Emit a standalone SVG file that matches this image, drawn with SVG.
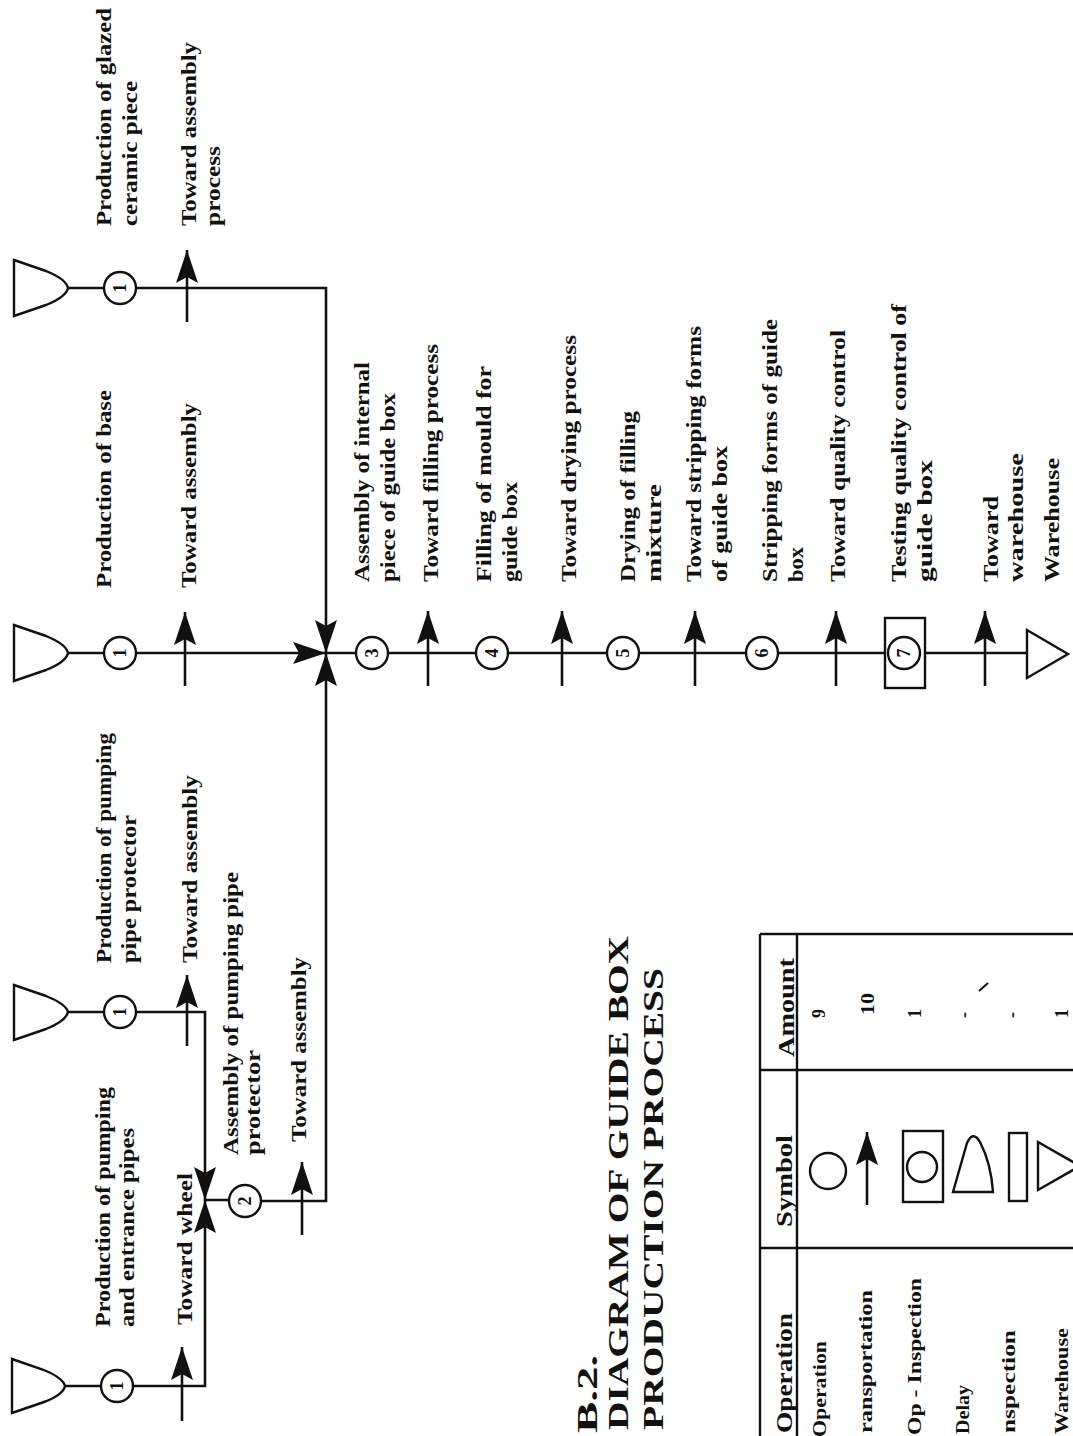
<svg xmlns="http://www.w3.org/2000/svg" width="1073" height="1436" viewBox="0 0 1073 1436">
<defs>
<style>
.ln{fill:none;stroke:#111;stroke-width:2.4}
.sym{fill:#fff;stroke:#111;stroke-width:2.4}
.ar{fill:none;stroke:#111;stroke-width:2.6;marker-end:url(#ah)}
.lb{font-family:"Liberation Serif","Times New Roman",serif;font-weight:bold;font-size:20px;fill:#111}
.num{font-family:"Liberation Serif","Times New Roman",serif;font-weight:bold;font-size:18px;fill:#111;text-anchor:middle;dominant-baseline:central}
.ttl{font-family:"Liberation Serif","Times New Roman",serif;font-weight:bold;font-size:29px;fill:#111}
.th{font-family:"Liberation Serif","Times New Roman",serif;font-weight:bold;font-size:24px;fill:#111}
.td{font-family:"Liberation Serif","Times New Roman",serif;font-weight:bold;font-size:19px;fill:#111}
.tv{font-family:"Liberation Serif","Times New Roman",serif;font-weight:bold;font-size:18px;fill:#111}
</style>
<marker id="ah" markerUnits="userSpaceOnUse" markerWidth="34" markerHeight="24" refX="33" refY="12" orient="auto">
<path d="M0,1 L33,12 L0,23 L6,12 Z" fill="#111"/>
</marker>
</defs>
<rect width="1073" height="1436" fill="#fff"/>

<g id="connectors">
<path class="ar" d="M68,288 H326 V653"/>
<path class="ar" d="M68,653 H326"/>
<path class="ar" d="M245,1201 H326 V653"/>
<path class="ln" d="M326,653 H1027"/>
<path class="ar" d="M68,1012 H205 V1200"/>
<path class="ar" d="M65,1386 H205 V1200"/>
<path class="ln" d="M205,1200 H245"/>
</g>

<!-- Row 1: glazed ceramic piece -->
<g id="delay-glazed"><path class="sym" d="M14,260 L46,271 Q66,279 68,288 Q66,297 46,305 L14,316 Z"/></g>
<g id="op-glazed">
<circle class="sym" cx="120" cy="288" r="16"/>
<text class="num" transform="translate(120,288) rotate(-90)">1</text>
<text class="lb" transform="translate(111,226) rotate(-90)" textLength="218" lengthAdjust="spacingAndGlyphs">Production of glazed</text>
<text class="lb" transform="translate(137,226) rotate(-90)" textLength="145" lengthAdjust="spacingAndGlyphs">ceramic piece</text>
</g>
<g id="tr-glazed">
<line class="ar" x1="187" y1="322" x2="187" y2="250"/>
<text class="lb" transform="translate(196,226) rotate(-90)" textLength="184" lengthAdjust="spacingAndGlyphs">Toward assembly</text>
<text class="lb" transform="translate(220,226) rotate(-90)" textLength="80" lengthAdjust="spacingAndGlyphs">process</text>
</g>

<!-- Row 2: base -->
<g id="delay-base"><path class="sym" d="M14,625 L46,636 Q66,644 68,653 Q66,662 46,670 L14,681 Z"/></g>
<g id="op-base">
<circle class="sym" cx="120" cy="653" r="16"/>
<text class="num" transform="translate(120,653) rotate(-90)">1</text>
<text class="lb" transform="translate(111,588) rotate(-90)" textLength="198" lengthAdjust="spacingAndGlyphs">Production of base</text>
</g>
<g id="tr-base">
<line class="ar" x1="185" y1="686" x2="185" y2="612"/>
<text class="lb" transform="translate(196,588) rotate(-90)" textLength="185" lengthAdjust="spacingAndGlyphs">Toward assembly</text>
</g>

<!-- Row 3: pumping pipe protector -->
<g id="delay-protector"><path class="sym" d="M14,985 L46,996 Q66,1004 68,1012 Q66,1021 46,1029 L14,1040 Z"/></g>
<g id="op-protector">
<circle class="sym" cx="120" cy="1012" r="16"/>
<text class="num" transform="translate(120,1012) rotate(-90)">1</text>
<text class="lb" transform="translate(111,963) rotate(-90)" textLength="230" lengthAdjust="spacingAndGlyphs">Production of pumping</text>
<text class="lb" transform="translate(136,963) rotate(-90)" textLength="148" lengthAdjust="spacingAndGlyphs">pipe protector</text>
</g>
<g id="tr-protector">
<line class="ar" x1="187" y1="1046" x2="187" y2="975"/>
<text class="lb" transform="translate(197,963) rotate(-90)" textLength="188" lengthAdjust="spacingAndGlyphs">Toward assembly</text>
</g>

<!-- Row 4: pumping and entrance pipes -->
<g id="delay-pipes"><path class="sym" d="M12,1359 L44,1370 Q63,1378 65,1386 Q63,1395 44,1402 L12,1413 Z"/></g>
<g id="op-pipes">
<circle class="sym" cx="117" cy="1386" r="16"/>
<text class="num" transform="translate(117,1386) rotate(-90)">1</text>
<text class="lb" transform="translate(110,1327) rotate(-90)" textLength="240" lengthAdjust="spacingAndGlyphs">Production of pumping</text>
<text class="lb" transform="translate(134,1327) rotate(-90)" textLength="199" lengthAdjust="spacingAndGlyphs">and entrance pipes</text>
</g>
<g id="tr-pipes">
<line class="ar" x1="182" y1="1421" x2="182" y2="1347"/>
<text class="lb" transform="translate(192,1325) rotate(-90)" textLength="152" lengthAdjust="spacingAndGlyphs">Toward wheel</text>
</g>

<!-- Operation 2 -->
<g id="op-2">
<circle class="sym" cx="245" cy="1201" r="16"/>
<text class="num" transform="translate(245,1201) rotate(-90)">2</text>
<text class="lb" transform="translate(238,1155) rotate(-90)" textLength="283" lengthAdjust="spacingAndGlyphs">Assembly of pumping pipe</text>
<text class="lb" transform="translate(260,1155) rotate(-90)" textLength="105" lengthAdjust="spacingAndGlyphs">protector</text>
</g>
<g id="tr-2">
<line class="ar" x1="302" y1="1235" x2="302" y2="1162"/>
<text class="lb" transform="translate(306,1142) rotate(-90)" textLength="185" lengthAdjust="spacingAndGlyphs">Toward assembly</text>
</g>

<!-- Main chain -->
<g id="op-3">
<circle class="sym" cx="372" cy="653" r="16"/>
<text class="num" transform="translate(372,653) rotate(-90)">3</text>
<text class="lb" transform="translate(369,582) rotate(-90)" textLength="220" lengthAdjust="spacingAndGlyphs">Assembly of internal</text>
<text class="lb" transform="translate(395,582) rotate(-90)" textLength="189" lengthAdjust="spacingAndGlyphs">piece of guide box</text>
</g>
<g id="tr-3">
<line class="ar" x1="428" y1="686" x2="428" y2="611"/>
<text class="lb" transform="translate(438,582) rotate(-90)" textLength="238" lengthAdjust="spacingAndGlyphs">Toward filling process</text>
</g>
<g id="op-4">
<circle class="sym" cx="492" cy="653" r="16"/>
<text class="num" transform="translate(492,653) rotate(-90)">4</text>
<text class="lb" transform="translate(491,582) rotate(-90)" textLength="216" lengthAdjust="spacingAndGlyphs">Filling of mould for</text>
<text class="lb" transform="translate(517,582) rotate(-90)" textLength="100" lengthAdjust="spacingAndGlyphs">guide box</text>
</g>
<g id="tr-4">
<line class="ar" x1="562" y1="686" x2="562" y2="611"/>
<text class="lb" transform="translate(576,582) rotate(-90)" textLength="247" lengthAdjust="spacingAndGlyphs">Toward drying process</text>
</g>
<g id="op-5">
<circle class="sym" cx="623" cy="653" r="16"/>
<text class="num" transform="translate(623,653) rotate(-90)">5</text>
<text class="lb" transform="translate(635,582) rotate(-90)" textLength="171" lengthAdjust="spacingAndGlyphs">Drying of filling</text>
<text class="lb" transform="translate(661,582) rotate(-90)" textLength="98" lengthAdjust="spacingAndGlyphs">mixture</text>
</g>
<g id="tr-5">
<line class="ar" x1="695" y1="686" x2="695" y2="611"/>
<text class="lb" transform="translate(701,582) rotate(-90)" textLength="256" lengthAdjust="spacingAndGlyphs">Toward stripping forms</text>
<text class="lb" transform="translate(727,582) rotate(-90)" textLength="136" lengthAdjust="spacingAndGlyphs">of guide box</text>
</g>
<g id="op-6">
<circle class="sym" cx="762" cy="653" r="16"/>
<text class="num" transform="translate(762,653) rotate(-90)">6</text>
<text class="lb" transform="translate(777,582) rotate(-90)" textLength="263" lengthAdjust="spacingAndGlyphs">Stripping forms of guide</text>
<text class="lb" transform="translate(803,582) rotate(-90)" textLength="35" lengthAdjust="spacingAndGlyphs">box</text>
</g>
<g id="tr-6">
<line class="ar" x1="836" y1="686" x2="836" y2="611"/>
<text class="lb" transform="translate(845,582) rotate(-90)" textLength="252" lengthAdjust="spacingAndGlyphs">Toward quality control</text>
</g>
<g id="opinsp-7">
<rect class="sym" x="885" y="618" width="40" height="70"/>
<circle class="sym" cx="904" cy="653" r="16"/>
<text class="num" transform="translate(904,653) rotate(-90)">7</text>
<text class="lb" transform="translate(906,582) rotate(-90)" textLength="278" lengthAdjust="spacingAndGlyphs">Testing quality control of</text>
<text class="lb" transform="translate(932,582) rotate(-90)" textLength="122" lengthAdjust="spacingAndGlyphs">guide box</text>
</g>
<g id="tr-7">
<line class="ar" x1="985" y1="686" x2="985" y2="611"/>
<text class="lb" transform="translate(998,582) rotate(-90)" textLength="86" lengthAdjust="spacingAndGlyphs">Toward</text>
<text class="lb" transform="translate(1023,582) rotate(-90)" textLength="129" lengthAdjust="spacingAndGlyphs">warehouse</text>
</g>
<g id="warehouse">
<path class="sym" d="M1027,630 L1027,678 L1068,654 Z"/>
<text class="lb" transform="translate(1059,582) rotate(-90)" textLength="124" lengthAdjust="spacingAndGlyphs">Warehouse</text>
</g>

<!-- Title -->
<g id="title">
<text class="ttl" transform="translate(597,1433) rotate(-90)" textLength="78" lengthAdjust="spacingAndGlyphs">B.2.</text>
<text class="ttl" transform="translate(628,1430) rotate(-90)" textLength="494" lengthAdjust="spacingAndGlyphs">DIAGRAM OF GUIDE BOX</text>
<text class="ttl" transform="translate(663,1430) rotate(-90)" textLength="462" lengthAdjust="spacingAndGlyphs">PRODUCTION PROCESS</text>
</g>

<!-- Legend table -->
<g id="legend">
<path class="ln" d="M760,934 H1073 M760,934 V1436 M797,934 V1436 M760,1070 H1073 M760,1248 H1073"/>
<text class="th" transform="translate(794,1057) rotate(-90)" textLength="99" lengthAdjust="spacingAndGlyphs">Amount</text>
<text class="th" transform="translate(792,1227) rotate(-90)" textLength="92" lengthAdjust="spacingAndGlyphs">Symbol</text>
<text class="th" transform="translate(792,1433) rotate(-90)" textLength="120" lengthAdjust="spacingAndGlyphs">Operation</text>

<text class="td" transform="translate(826,1437) rotate(-90)" textLength="96" lengthAdjust="spacingAndGlyphs">Operation</text>
<text class="td" transform="translate(872,1433) rotate(-90)" textLength="143" lengthAdjust="spacingAndGlyphs">ransportation</text>
<text class="td" transform="translate(921,1435) rotate(-90)" textLength="157" lengthAdjust="spacingAndGlyphs">Op - Inspection</text>
<text class="td" transform="translate(969,1434) rotate(-90)" textLength="49" lengthAdjust="spacingAndGlyphs">Delay</text>
<text class="td" transform="translate(1015,1433) rotate(-90)" textLength="103" lengthAdjust="spacingAndGlyphs">nspection</text>
<text class="td" transform="translate(1068,1434) rotate(-90)" textLength="106" lengthAdjust="spacingAndGlyphs">Warehouse</text>

<circle class="sym" cx="828" cy="1171" r="18"/>
<line class="ar" x1="867" y1="1205" x2="867" y2="1132"/>
<rect class="sym" x="903" y="1131" width="40" height="71"/>
<circle class="sym" cx="922" cy="1167" r="15"/>
<path class="sym" d="M953,1192 L967,1143 Q973,1130 980,1142 Q991,1163 993,1192 Z"/>
<rect class="sym" x="1009" y="1133" width="18" height="68"/>
<path class="sym" d="M1038,1142 L1038,1190 L1080,1166 Z"/>

<text class="tv" transform="translate(825,1018) rotate(-90)">9</text>
<text class="tv" transform="translate(874,1015) rotate(-90)" textLength="22" lengthAdjust="spacingAndGlyphs">10</text>
<text class="tv" transform="translate(921,1018) rotate(-90)">1</text>
<text class="tv" transform="translate(970,1018) rotate(-90)">-</text>
<text class="tv" transform="translate(1018,1018) rotate(-90)">-</text>
<text class="tv" transform="translate(1068,1018) rotate(-90)">1</text>
<path d="M979,991 L988,983" stroke="#111" stroke-width="2" fill="none"/>
</g>
</svg>
